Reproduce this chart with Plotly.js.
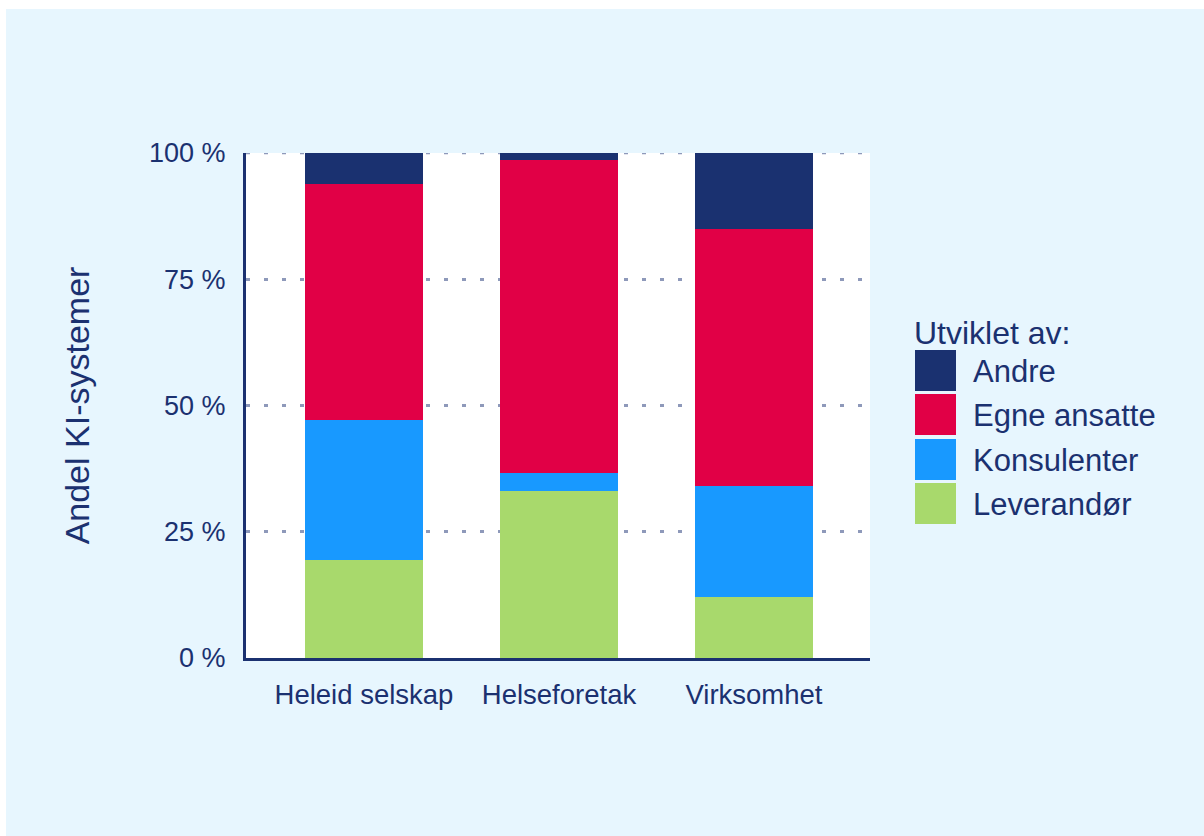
<!DOCTYPE html>
<html>
<head>
<meta charset="utf-8">
<script src="https://cdn.plot.ly/plotly-3.0.1.min.js"></script>
<style>html,body{margin:0;padding:0;background:#fff;}#chart{width:1204px;height:836px;}</style>
</head>
<body>
<div id="chart"></div>
<script>
// Data (shares in %)
const categories = ["Heleid selskap", "Helseforetak", "Virksomhet"];
const seriesNames = ["Leverandør", "Konsulenter", "Egne ansatte", "Andre"];
const leverandor  = [19.4, 33.1, 12.1];
const konsulenter = [27.7, 3.5, 22.0];
const egneAnsatte = [46.8, 62.0, 50.8];
const andre       = [6.1, 1.4, 15.1];
const yTickVals = [0, 25, 50, 75, 100];
const yTickText = ["0 %", "25 %", "50 %", "75 %", "100 %"];
const legendTitle = "Utviklet av:";
const yTitle = "Andel KI-systemer";

const colors = {
  "Leverandør": "#A8D96C",
  "Konsulenter": "#1899FF",
  "Egne ansatte": "#E10046",
  "Andre": "#1A3170"
};
const textColor = "#1B3170";
const font = "Liberation Sans, Arial, sans-serif";

const values = [leverandor, konsulenter, egneAnsatte, andre];
const traces = seriesNames.map((name, i) => ({
  type: "bar",
  name: name,
  x: categories,
  y: values[i],
  marker: { color: colors[name], line: { width: 0 } },
  width: 0.605,
  showlegend: false,
  cliponaxis: false,
  hovertemplate: "%{x}<br>" + name + ": %{y:.1f} %<extra></extra>"
}));

// plot area in pixels
const L = 246, R = 870, T = 153, B = 658;
const px2x = p => (p - L) / (R - L);
const px2y = p => (B - p) / (B - T);

const shapes = [
  // white strips at top and left edges of the picture
  { type: "rect", xref: "paper", yref: "paper", x0: px2x(0), x1: px2x(1204), y0: px2y(9), y1: px2y(0), fillcolor: "#ffffff", line: { width: 0 }, layer: "below" },
  { type: "rect", xref: "paper", yref: "paper", x0: px2x(0), x1: px2x(6), y0: px2y(836), y1: px2y(0), fillcolor: "#ffffff", line: { width: 0 }, layer: "below" },
  // dotted gridline at 100 % (top edge of plot area)
  { type: "line", xref: "paper", yref: "y", x0: 0, x1: 1, y0: 100, y1: 100, line: { color: "#8E99BA", width: 2.5, dash: "4px,14px" }, layer: "below" }
];
const annotations = [
  { xref: "paper", yref: "paper", x: px2x(912), y: px2y(333), xanchor: "left", yanchor: "middle",
    text: legendTitle, showarrow: false, font: { family: font, size: 32, color: textColor } }
];
const legendOrder = ["Andre", "Egne ansatte", "Konsulenter", "Leverandør"];
const swTop = [350, 394, 439, 483];
legendOrder.forEach((name, i) => {
  shapes.push({ type: "rect", xref: "paper", yref: "paper",
    x0: px2x(915), x1: px2x(956), y0: px2y(swTop[i] + 41), y1: px2y(swTop[i]),
    fillcolor: colors[name], line: { width: 0 } });
  annotations.push({ xref: "paper", yref: "paper", x: px2x(971), y: px2y(swTop[i] + 21),
    xanchor: "left", yanchor: "middle", text: name, showarrow: false,
    font: { family: font, size: 31, color: textColor } });
});

const layout = {
  width: 1204, height: 836,
  margin: { l: L, r: 1204 - R, t: T, b: 836 - B, pad: 0 },
  paper_bgcolor: "#E7F6FE",
  plot_bgcolor: "#FFFFFF",
  barmode: "stack",
  font: { family: font, color: textColor },
  xaxis: {
    type: "category",
    range: [-0.605, 2.595],
    showgrid: false,
    showline: true, linecolor: "#1B3170", linewidth: 2.5,
    ticks: "", ticklabelstandoff: 10,
    tickfont: { family: font, size: 27.5, color: textColor },
    fixedrange: true
  },
  yaxis: {
    range: [0, 100],
    tickmode: "array",
    tickvals: yTickVals,
    ticktext: yTickText,
    showgrid: true, gridcolor: "#8E99BA", griddash: "4px,14px", gridwidth: 2.5,
    zeroline: false,
    showline: true, linecolor: "#1B3170", linewidth: 3,
    ticks: "", ticklabelstandoff: 12,
    tickfont: { family: font, size: 27, color: textColor },
    title: { text: yTitle, standoff: 50, font: { family: font, size: 34, color: textColor } },
    fixedrange: true
  },
  shapes: shapes,
  annotations: annotations,
  showlegend: false
};

Plotly.newPlot("chart", traces, layout, { displayModeBar: false });
</script>
</body>
</html>
